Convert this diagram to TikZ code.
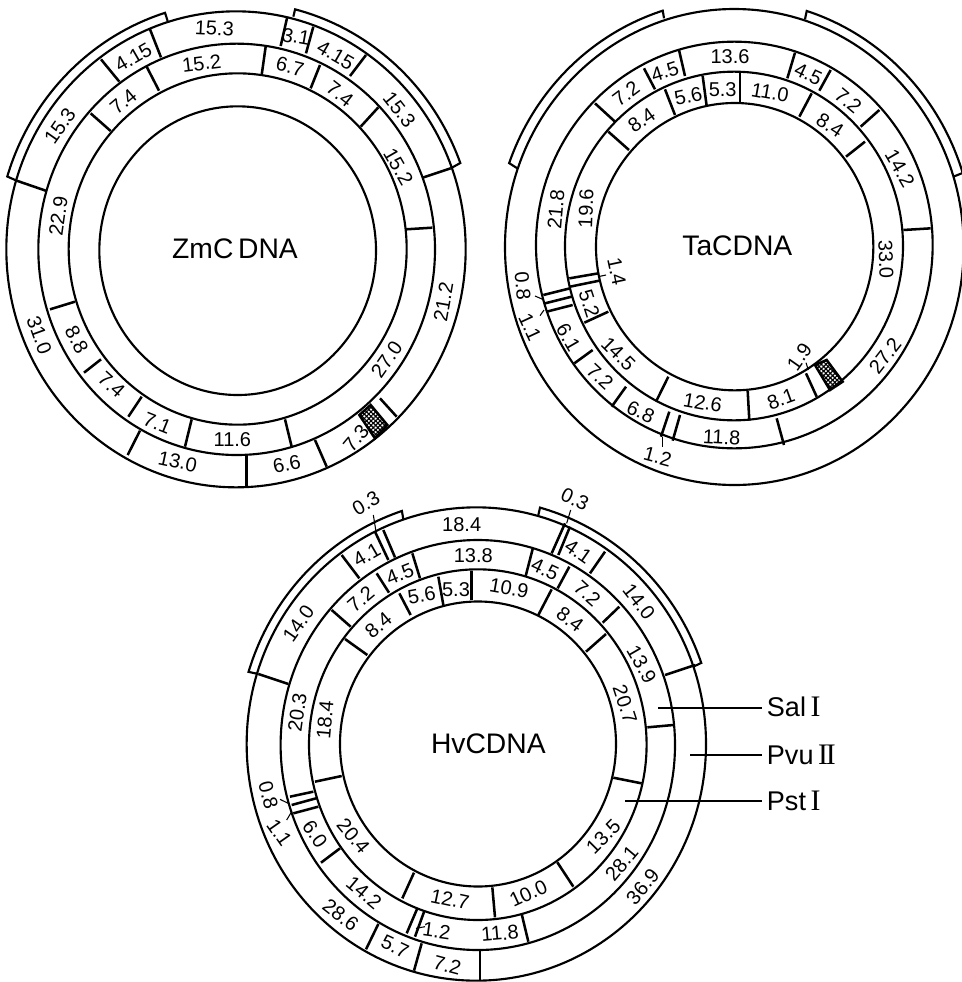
\documentclass[tikz,border=0pt]{standalone}
\usepackage{fontspec}
\setmainfont{Liberation Sans}
\newfontfamily\romfont[Scale=1.1]{Liberation Serif}
\usetikzlibrary{patterns.meta}
\tikzset{
  ringline/.style={line width=1.6pt,draw=black},
  tickline/.style={line width=1.9pt,draw=black},
  leadline/.style={line width=.8pt,draw=black},
  siteline/.style={line width=1.3pt,draw=black},
  numlab/.style={font=\fontsize{15}{17}\selectfont,inner sep=0pt},
  maplab/.style={font=\fontsize{21.2}{24}\selectfont,inner sep=0pt},
  sitelab/.style={font=\fontsize{20.3}{22}\selectfont,inner sep=3.5pt,anchor=west},
  hatchcell/.style={pattern={Lines[angle=45,distance=2.4pt,line width=.9pt]}},
  hatchcellb/.style={pattern={Lines[angle=-45,distance=2.4pt,line width=.9pt]}},
}
\newcommand{\ringset}[1]{\foreach \cx/\cy/\rx/\ry in {#1}
  \draw[ringline] (\cx,\cy) ellipse [x radius=\rx*.25pt,y radius=\ry*.25pt];}
\newcommand{\tickset}[1]{\foreach \xa/\ya/\xb/\yb in {#1}
  \draw[tickline] (\xa,\ya) -- (\xb,\yb);}
\newcommand{\leadset}[1]{\foreach \xa/\ya/\xb/\yb in {#1}
  \draw[leadline] (\xa,\ya) -- (\xb,\yb);}
\newcommand{\labset}[2]{\foreach \xa/\ya/\ang/\txt [count=\i] in {#2}
  \node[numlab,rotate=\ang] (#1\i) at (\xa,\ya) {\txt};}
% one bracket: end on the ring, arc, end on the ring
\newcommand{\bracketarc}[8]{\draw[ringline] (#1) -- plot[domain=#6:#7,samples=50,variable=\t]
  ({#2+#4*cos(\t)},{#3-#5*sin(\t)}) -- (#8);}
\newcommand{\hatchbox}[1]{\path[hatchcell] #1; \path[hatchcellb] #1; \draw[tickline] #1;}
\begin{document}
\begin{tikzpicture}[x=.25pt,y=-.25pt]
  \useasboundingbox (0,0) rectangle (2883,2946);
  % ZmC DNA
  \begin{scope}
    \ringset{708/748/689/714,710/748/595/617,713/747/507/527,713/752/415/433}
    \bracketarc{50,542}{708}{748}{718}{743}{162.9}{107.25}{503,63}
    \bracketarc{880,50}{708}{748}{718}{743}{75.7}{20.4}{1352,505}
    \tickset{450/88/483/172,862/50/842/138,940/80/918/160,1098/165/1050/228,
      1352/505/1268/533,303/178/358/245,50/542/140/573,420/1292/383/1365,
      740/1365/740/1460,945/1320/980/1400,1140/1195/1190/1250,
      440/200/477/272,797/140/785/225,960/195/932/265,1135/322/1082/380,
      1297/683/1217/688,272/340/332/393,150/928/225/905,303/1078/252/1118,
      425/1190/385/1250,575/1258/555/1340,855/1258/875/1340}
    \hatchbox{(1078,1245) -- (1112,1215) -- (1162,1275) -- (1125,1315) -- cycle}
    \labset{zm}{643/85/-3/15.3,888/110/-10/3.1,1007/165/-30/4.15,1198/328/-52/15.3,
      1195/500/-60/15.2,1330/905/80/21.2,1160/1078/55/27.0,1068/1315/50/7.3,
      860/1393/12/6.6,533/1385/-12/13.0,697/1318/0/11.6,472/1270/-22/7.1,
      335/1155/-42/7.4,230/1020/-62/8.8,118/1005/-70/31.0,175/648/82/22.9,
      180/378/55/15.3,370/305/40/7.4,400/172/30/4.15,605/190/7/15.2,
      870/200/-14/6.7,1020/282/-38/7.4}
    \node[maplab] (zmname) at (705,745) {ZmC\,DNA};
  \end{scope}
  % TaCDNA
  \begin{scope}[shift={(1440,0)}]
    \ringset{763/741/688/714,763/735/595/610,762/738/507/523,764/740/416/431}
    \bracketarc{112,505}{763}{741}{718}{743}{160.2}{107.4}{552,55}
    \bracketarc{975,58}{763}{741}{718}{743}{72.4}{17.4}{1420,530}
    \tickset{345/310/405/365,492/205/525/268,597/150/615/228,945/158/922/235,
      1052/210/1018/272,1198/330/1142/380,1352/685/1270/690,
      190/885/270/865,195/910/275/890,200/935/278/915,338/1050/283/1090,
      438/1160/395/1220,568/1235/543/1310,600/1245/578/1322,890/1255/912/1335,
      385/395/447/450,555/268/585/345,668/228/680/318,780/218/780/305,
      995/280/958/350,1155/425/1098/470,268/835/355/820,270/860/358/842,
      385/935/313/968,565/1130/528/1205,803/1172/808/1262,978/1120/1010/1190}
    \hatchbox{(1005,1095) -- (1040,1080) -- (1088,1145) -- (1050,1170) -- cycle}
    \leadset{355/830/378/825,165/888/188/898,192/930/180/947,978/1088/985/1110,
      548/1310/548/1340}
    \labset{ta}{750/170/0/13.6,555/215/18/4.5,438/282/37/7.2,985/222/-25/4.5,
      1105/302/-40/7.2,485/360/35/8.4,625/288/12/5.6,728/268/0/5.3,870/278/-10/11.0,
      1050/375/-33/8.4,1260/505/-60/14.2,1218/778/-88/33.0,1215/1068/52/27.2,
      228/628/85/21.8,318/625/88/19.6,410/815/-78/1.4,128/858/-85/0.8,150/982/-65/1.1,
      328/912/-72/5.2,265/1012/-60/6.1,415/1062/-45/14.5,360/1130/-43/7.2,
      482/1235/-25/6.8,668/1208/-10/12.6,903/1198/20/8.1,958/1070/55/1.9,
      725/1312/-3/11.8,533/1370/-15/1.2}
    \node[maplab] (taname) at (772,738) {TaCDNA};
  \end{scope}
  % HvCDNA
  \begin{scope}[shift={(720,1440)}]
    \ringset{709/792/689/710,713.4/795/591.6/615,713.4/794/506.4/526,714/792/414/427.5}
    \bracketarc{55,582}{709}{792}{715}{736}{162.9}{108.2}{490,118}
    \bracketarc{895,105}{709}{792}{715}{736}{74.5}{19.3}{1360,560}
    \tickset{405/155/445/240,430/150/465/232,305/225/358/295,55/582/145/612,
      975/130/935/220,990/140/955/225,1095/215/1050/280,1365/555/1275/585,
      275/390/332/440,410/280/447/338,517/220/540/295,878/207/857/288,
      988/260/953/325,1138/380/1088/428,1300/735/1222/742,
      315/477/382/525,478/340/512/405,595/290/610/375,695/272/695/360,
      935/328/895/405,1098/462/1038/515}
    \leadset{400/105/408/155,992/90/980/130}
    \labset{hva}{378/70/30/0.3,1005/58/-25/0.3,665/133/0/18.4,700/227/0/13.8,
      380/225/30/4.1,480/283/22/4.5,362/358/40/7.2,545/345/10/5.6,648/328/0/5.3,
      415/435/40/8.4,807/325/-10/10.9,915/268/-25/4.5,1015/215/-35/4.1,
      1042/340/-42/7.2,990/418/-37/8.4,1197/365/-52/14.0,1205/553/-60/13.9,
      1155/672/-72/20.7,175/430/55/14.0,172/698/82/20.3,255/720/85/18.4}
    \begin{scope}[shift={(0,750)}]
      \tickset{225/155/305/138,1120/143/1205/160,150/200/220/185,155/225/228/205,
        160/250/235/230,300/355/243/398,522/428/487/505,757/472/765/562,
        952/397/1000/470,532/535/500/610,553/543/525/620,845/552/865/635,
        415/582/378/658,545/640/522/722,720/662/720/752}
      \leadset{528/595/555/590,120/208/145/220,155/245/140/270}
      \labset{hvb}{85/195/-75/0.8,118/308/-55/1.1,225/312/-55/6.0,340/318/-50/20.4,
        372/487/-40/14.2,302/555/-38/28.6,465/650/-25/5.7,590/603/-8/1.2,
        630/508/-12/12.7,865/490/25/10.0,1090/320/45/13.5,1145/400/50/28.1,
        1208/470/50/36.9,780/610/5/11.8,622/705/-15/7.2}
      \node[maplab] (hvname) at (745,40) {HvCDNA};
    \end{scope}
    \coordinate (salend) at (1254,684);
    \coordinate (pvuend) at (1350,825);
    \coordinate (pstend) at (1155,963);
    \node[sitelab] (sal) at (1566,680) {Sal\,{\romfont I}};
    \node[sitelab] (pvu) at (1566,825) {Pvu\,{\romfont I\kern-.07em I}};
    \node[sitelab] (pst) at (1566,963) {Pst\,{\romfont I}};
    \draw[siteline] (salend) -- (salend -| sal.west);
    \draw[siteline] (pvuend) -- (pvuend -| pvu.west);
    \draw[siteline] (pstend) -- (pstend -| pst.west);
  \end{scope}
\end{tikzpicture}
\end{document}
